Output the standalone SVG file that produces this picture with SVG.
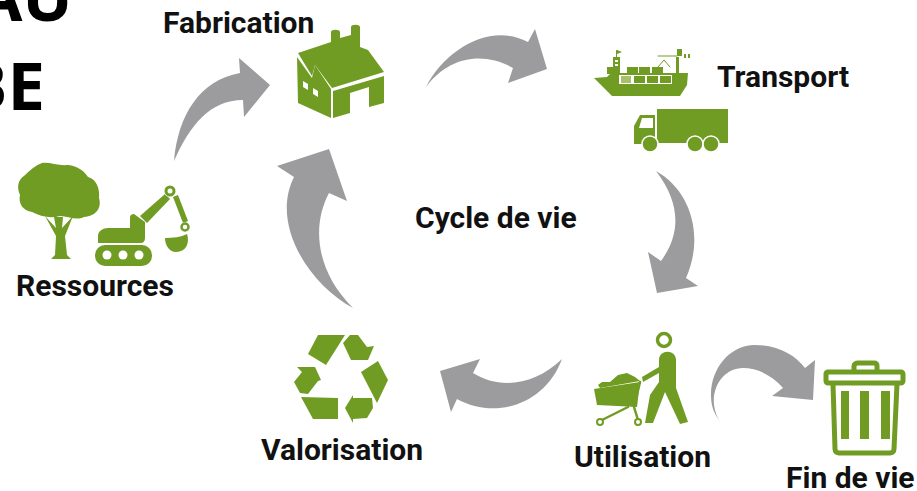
<svg xmlns="http://www.w3.org/2000/svg" width="917" height="491" viewBox="0 0 917 491">
<style>
.lb{font-family:Roboto,"Liberation Sans",sans-serif;font-weight:700;font-size:30px;fill:#111}
.tt{font-family:"Open Sans","Liberation Sans",sans-serif;font-weight:700;font-size:67px;fill:#000}
.g{fill:#719c24}
.w{fill:#fff}
.a{fill:#9c9c9e}
.gs{fill:none;stroke:#719c24;stroke-linecap:round;stroke-linejoin:round}
</style>
<rect width="917" height="491" fill="#fff"/>
<g id="title"><text class="tt" x="73" y="21" text-anchor="end">AU</text><text class="tt" x="45" y="110" text-anchor="end">BE</text></g>
<g id="connectors">
<path class="a" d="M174,161C178,115 200,80 240,73L239,58L270,85L244,117L243,100C210,100 190,125 174,161Z"/>
<path class="a" d="M426,87C445,50 490,22 528,42L535,29L547,69L508,83L513,68C485,52 450,55 426,87Z"/>
<path class="a" d="M656,171C690,190 705,235 686,278L698,286L657,293L648,252L661,261C680,235 682,205 656,171Z"/>
<path class="a" d="M562,359C535,385 500,390 473,373L480,359L440,371L451,412L457,399C495,420 545,405 562,359Z"/>
<path class="a" d="M353,308C310,285 270,225 294,177L277,166L329,149L347,201L329,193C312,225 315,270 353,308Z"/>
<path class="a" d="M721,423C713,412 711,405 711,395C711,368 730,345 755,345C778,345 795,355 805,368L815,360L813,400L772,396L783,388C772,375 757,368 743,368C725,368 712,385 714,405C715,412 717,418 721,423Z"/>
</g>
<g id="ressources">
<path class="g" d="M42,163C50,162 58,166 68,165C78,166 84,171 88,177C97,179 100,190 99,198C102,208 96,216 84,217C76,221 68,216 60,216C50,219 40,216 32,212C23,211 18,203 20,195C16,186 19,179 24,176C30,170 36,165 42,163Z"/>
<path class="g" d="M45,216L56,228L54,217H63L62,228L73,216L65,236L67,255L71,259H51L55,255L56,236Z"/>
<path class="g" d="M98,236C98,231 103,228 108,228H130V217C130,215 132,214 134,214L145,222V237C145,241 144,243 140,243H98Z"/>
<path class="g" d="M140,216L165,194L170,199L147,223Z"/>
<path class="g" d="M173,197L178,195L188,221L183,223Z"/>
<circle class="w" cx="170" cy="191" r="6"/><circle cx="170" cy="191" r="4" fill="none" stroke="#719c24" stroke-width="3"/>
<circle class="w" cx="185" cy="227" r="5"/><circle cx="185" cy="227" r="3.500" fill="none" stroke="#719c24" stroke-width="2.500"/>
<path class="g" d="M165,238C173,238 181,237 187,234C190,243 186,252 176,252C170,252 165,246 165,238Z"/>
<rect class="g" x="95" y="245" width="57" height="21" rx="10"/>
<circle class="w" cx="107" cy="255" r="4.500"/><circle class="w" cx="123" cy="255" r="4.500"/><circle class="w" cx="139" cy="255" r="4.500"/>
<text class="lb" x="16" y="296">Ressources</text>
</g>
<g id="fabrication">
<path class="g" d="M331,42V32C331,29 340,29 340,32V38L351,35V27C351,24 360,24 360,27V47L368,50L384,72L332,88L315,65L312,76L298,53Z"/>
<path class="g" d="M297,57L312,78L315,65L331,89V118L298,103Z"/>
<path class="g" d="M333,91L384,76V103L369,107V87L350,93V113L333,118Z"/>
<path class="w" d="M303,81L308,84V90L303,87Z"/><path class="w" d="M313,88L318,91V97L313,94Z"/>
<text class="lb" x="163" y="33">Fabrication</text>
</g>
<g id="transport">
<path class="g" d="M594,78L607,77L611,73H688L687,85L680,96H612Z"/>
<path class="g" d="M613,57H620V73H613Z"/><rect class="g" x="607" y="67" width="7" height="7"/>
<path class="w" d="M615,60h3v2h-3zM615,64h3v2h-3z"/>
<path class="g" d="M616,50h1v7h-1zM617,50l5,2l-5,2z"/>
<rect class="g" x="627" y="67" width="11" height="7"/><rect class="g" x="639" y="67" width="11" height="7"/><rect class="g" x="652" y="67" width="11" height="7"/>
<rect class="w" x="619" y="75" width="53" height="9"/>
<rect x="621" y="76" width="10" height="7" fill="#a9c06b"/>
<rect class="g" x="634" y="76" width="11" height="7"/><rect class="g" x="647" y="76" width="11" height="7"/><rect class="g" x="660" y="76" width="11" height="7"/>
<path class="gs" stroke-width="1" d="M658,56H677M658,67L664,60L670,67"/>
<path class="g" d="M676,57h3v18h-3z"/><rect class="g" x="677" y="49" width="5" height="7"/>
<path class="g" d="M684,54h2v4h-2zM688,54h2v4h-2z"/>
<rect class="g" x="657" y="109" width="71" height="34"/>
<path class="g" d="M634,144V126L640,115H655V144Z"/>
<path class="w" d="M642,118H653V128H639Z"/>
<circle class="g" cx="650" cy="144" r="8" stroke="#fff" stroke-width="1.500"/><circle class="g" cx="695" cy="144" r="8" stroke="#fff" stroke-width="1.500"/><circle class="g" cx="711" cy="144" r="8" stroke="#fff" stroke-width="1.500"/>
<text class="lb" x="717" y="87">Transport</text>
</g>
<g id="utilisation">
<circle cx="664" cy="340" r="6.500" fill="none" stroke="#719c24" stroke-width="3.500"/>
<path class="g" d="M659,360C659,349 676,349 676,360V388L688,422L680,424L665,392L653,423L645,423L650,395L659,382V373L643,382L642,377L659,367Z"/>
<path class="g" d="M594,389L640,382L637,407L597,405Z"/>
<path class="g" d="M598,385L602,382L610,382L618,375L627,373L635,377L640,381L600,388Z"/>
<path class="gs" stroke-width="2.500" d="M640,382L634,407L638,420M628,407L600,421"/>
<circle class="w" cx="600" cy="422" r="3"/><circle class="w" cx="638" cy="422" r="3"/>
<circle cx="600" cy="422" r="3" fill="none" stroke="#719c24" stroke-width="2"/><circle cx="638" cy="422" r="3" fill="none" stroke="#719c24" stroke-width="2"/>
<text class="lb" x="574" y="467">Utilisation</text>
</g>
<g id="valorisation">
<path class="g" d="M318,335H345L326,365L308,354Z"/>
<path class="g" d="M343,343L350,335H358L367,347L374,346L368,360H351Z"/>
<path class="g" d="M378,361L388,380L377,403L361,372Z"/>
<path class="g" d="M345,408L353,395V398H372L373,408L367,418L353,419V423Z"/>
<path class="g" d="M301,397L338,398V419H313Z"/>
<path class="g" d="M297,367H315L321,380L318,381L308,394L300,393L294,382L302,372Z"/>
<text class="lb" x="261" y="460">Valorisation</text>
</g>
<g id="fin-de-vie">
<path class="gs" stroke-width="5" d="M854,371V366C854,364 856,363 858,363H874C876,363 877,364 877,366V371"/>
<rect x="826" y="372" width="77" height="11" rx="2" fill="none" stroke="#719c24" stroke-width="5"/>
<path class="gs" stroke-width="5" d="M833,384L835,449C835,452 837,453 839,453H890C892,453 894,452 894,449L897,384"/>
<rect class="g" x="841" y="391" width="8" height="48"/><rect class="g" x="860" y="391" width="9" height="48"/><rect class="g" x="881" y="391" width="9" height="48"/>
<text class="lb" x="786" y="488">Fin de vie</text>
</g>
<g id="centre"><text class="lb" x="415" y="228">Cycle de vie</text></g>
</svg>
